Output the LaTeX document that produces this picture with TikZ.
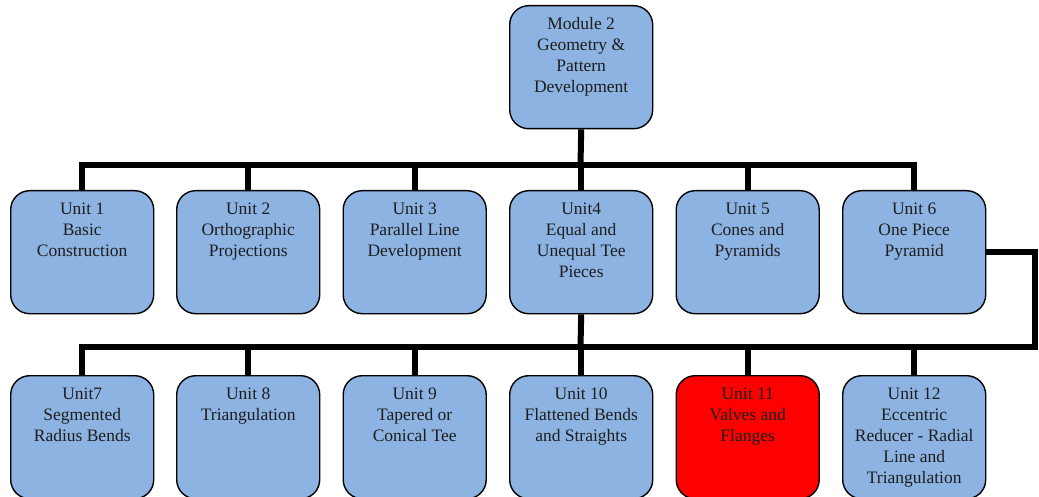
\documentclass[tikz,border=0pt]{standalone}
\usepackage{fontspec}
\setmainfont{Liberation Serif}
\usetikzlibrary{backgrounds}
\definecolor{boxblue}{HTML}{8DB3E2}
\definecolor{boxred}{HTML}{FF0000}
\definecolor{txtgrey}{HTML}{1E1E1E}
\newcommand{\boxtext}[1]{\parbox[t][105pt][t]{131pt}{\centering\strut #1}}
\begin{document}
\begin{tikzpicture}[x=1pt,y=-1pt,
  unitbox/.style={draw=black, line width=1.4pt, fill=boxblue, rounded corners=19pt,
    inner xsep=6pt, inner ysep=9pt, anchor=north west,
    font=\fontsize{17.5}{21}\selectfont, text=txtgrey},
  redbox/.style={unitbox, fill=boxred},
  conn/.style={line width=6pt},
  bus/.style={line width=6pt, line cap=rect}
]
\useasboundingbox (0,0) rectangle (1039,497);
\coordinate (b1) at (580.5,165);
\coordinate (b2) at (580.5,347);
\coordinate (rc) at (1035,252);
\coordinate (rd) at (1035,347);

% Boxes
\node[unitbox] (m) at (509,5) {\boxtext{Module 2\\Geometry \&\\Pattern\\Development}};

\node[unitbox] (u1) at (10,190) {\boxtext{Unit 1\\Basic\\Construction}};
\node[unitbox] (u2) at (176,190) {\boxtext{Unit 2\\Orthographic\\Projections}};
\node[unitbox] (u3) at (342.5,190) {\boxtext{Unit 3\\Parallel Line\\Development}};
\node[unitbox] (u4) at (509,190) {\boxtext{Unit4\\Equal and\\Unequal Tee\\Pieces}};
\node[unitbox] (u5) at (675.5,190) {\boxtext{Unit 5\\Cones and\\Pyramids}};
\node[unitbox] (u6) at (842,190) {\boxtext{Unit 6\\One Piece\\Pyramid}};

\node[unitbox] (u7) at (10,375) {\boxtext{Unit7\\Segmented\\Radius Bends}};
\node[unitbox] (u8) at (176,375) {\boxtext{Unit 8\\Triangulation}};
\node[unitbox] (u9) at (342.5,375) {\boxtext{Unit 9\\Tapered or\\Conical Tee}};
\node[unitbox] (u10) at (509,375) {\boxtext{Unit 10\\Flattened Bends\\and Straights}};
\node[redbox] (u11) at (675.5,375) {\boxtext{Unit 11\\Valves and\\Flanges}};
\node[unitbox] (u12) at (842,375) {\boxtext{Unit 12\\Eccentric\\Reducer - Radial\\Line and\\Triangulation}};

\begin{scope}[on background layer]
% first-level connectors
\draw[conn] (m.south) -- (b1);
\draw[bus] (u1.north |- b1) -- (u6.north |- b1);
\foreach \u in {u1,u2,u3,u4,u5,u6} {
  \draw[conn] (\u.north |- b1) -- (\u.north);
}
% second-level connectors
\draw[conn] (u4.south) -- (b2);
\draw[conn, line join=miter] (u6.east |- rc) -- (rc) -- (rd);
\draw[bus] (u7.north |- b2) -- (rd);
\foreach \u in {u7,u8,u9,u10,u11,u12} {
  \draw[conn] (\u.north |- b2) -- (\u.north);
}
\end{scope}
\end{tikzpicture}
\end{document}
